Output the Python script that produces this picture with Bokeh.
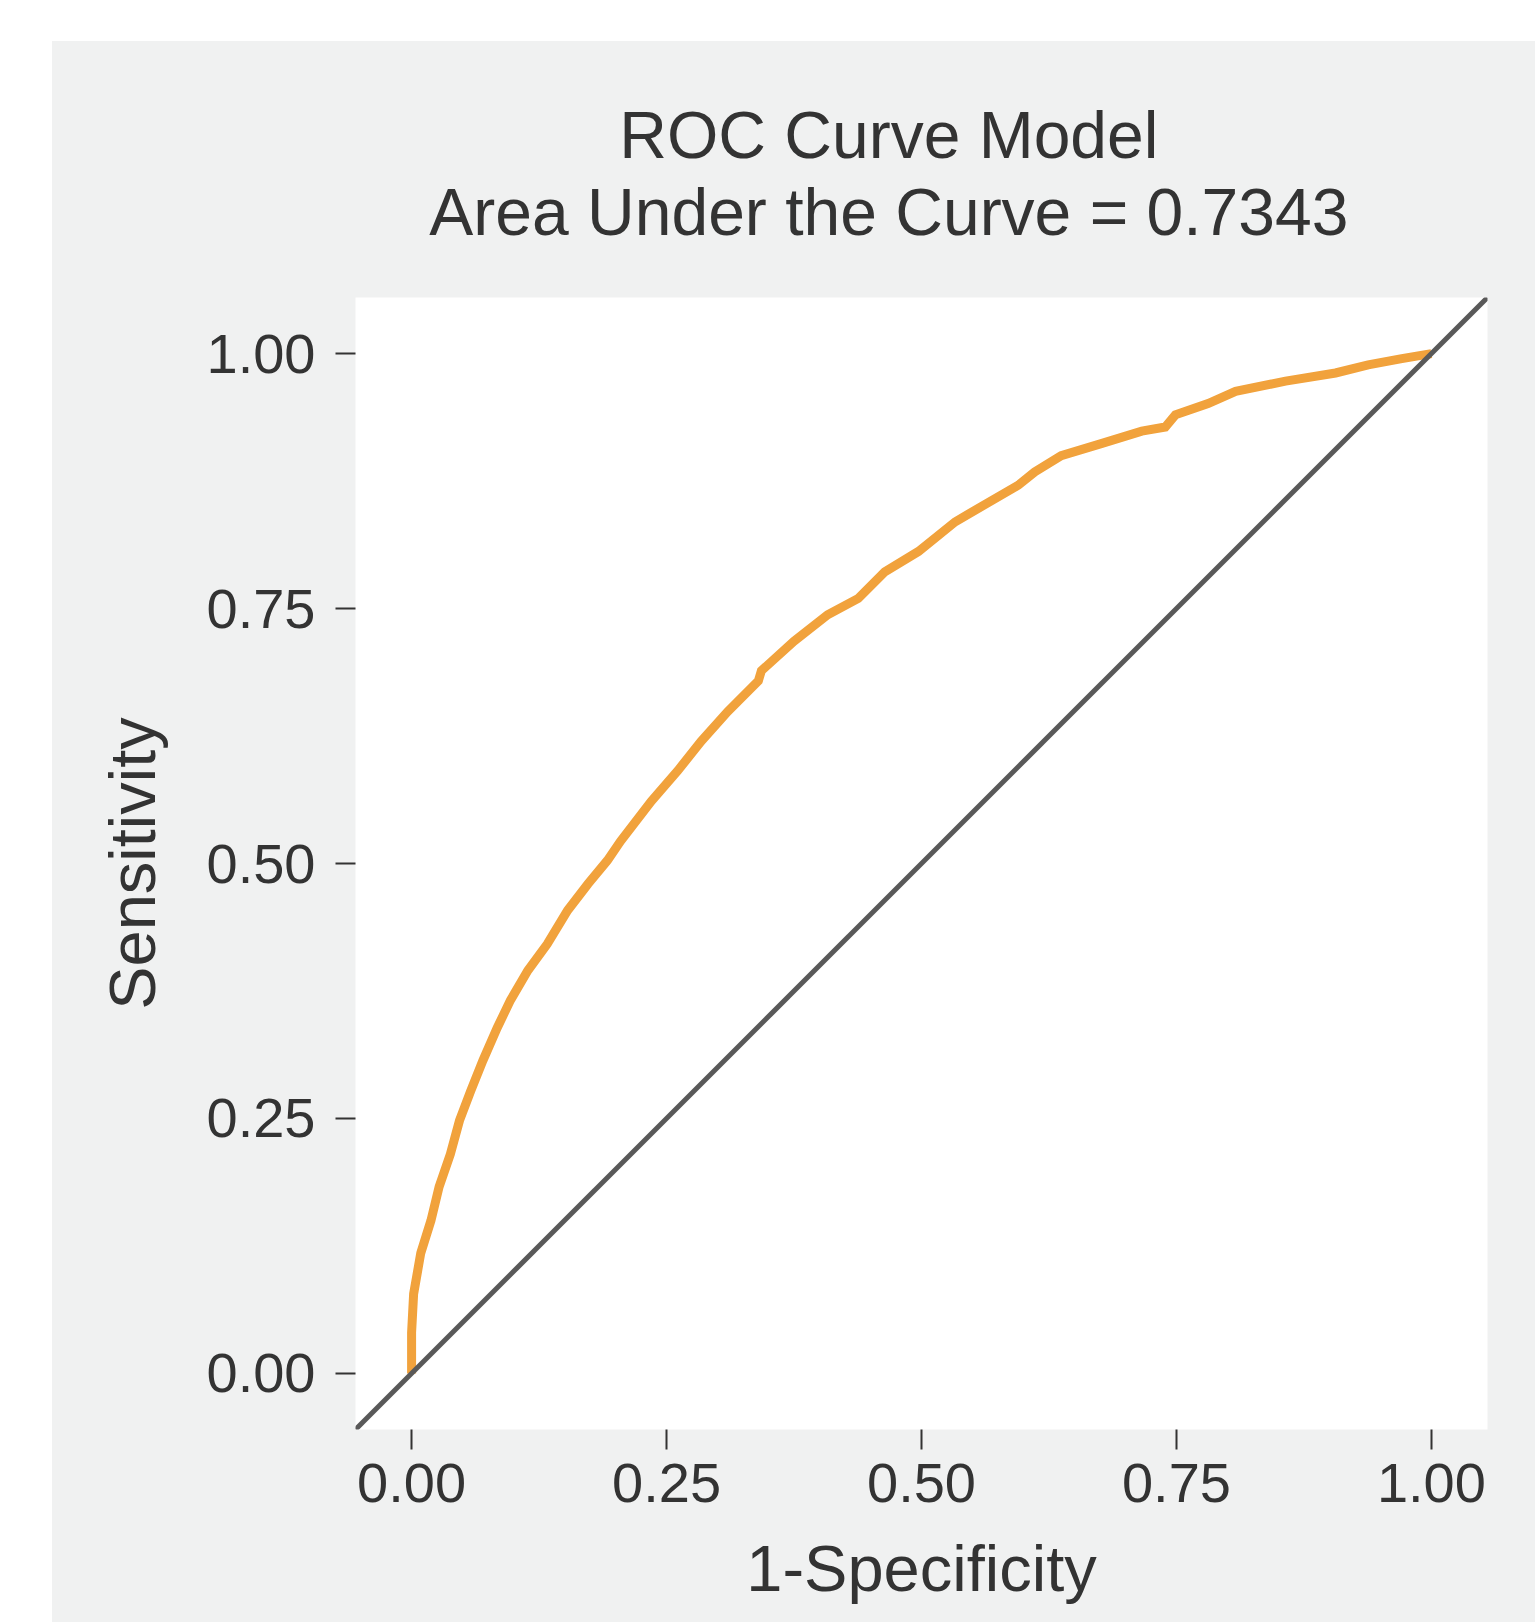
from bokeh.plotting import figure
from bokeh.models import Label, Slope, Range1d, FixedTicker, Spacer
from bokeh.layouts import row, column
from bokeh.embed import file_html
from bokeh.resources import INLINE

# ROC curve points
fpr = [0, 0, 0.002, 0.009, 0.019, 0.027, 0.038, 0.047, 0.058, 0.070, 0.084, 0.097,
       0.114, 0.133, 0.153, 0.173, 0.192, 0.205, 0.235, 0.261, 0.284, 0.310, 0.340,
       0.343, 0.375, 0.408, 0.438, 0.464, 0.497, 0.533, 0.562, 0.595, 0.611, 0.637,
       0.677, 0.716, 0.739, 0.749, 0.781, 0.808, 0.857, 0.906, 0.938, 0.971, 1.0]
tpr = [0, 0.040, 0.078, 0.118, 0.150, 0.183, 0.215, 0.248, 0.277, 0.307, 0.339, 0.366,
       0.395, 0.421, 0.454, 0.480, 0.503, 0.522, 0.561, 0.591, 0.620, 0.649, 0.679,
       0.689, 0.718, 0.744, 0.760, 0.786, 0.806, 0.835, 0.852, 0.871, 0.884, 0.900,
       0.912, 0.924, 0.928, 0.940, 0.951, 0.963, 0.973, 0.981, 0.989, 0.995, 1.0]
ticks = [0.0, 0.25, 0.5, 0.75, 1.0]
tick_labels = {0.0: "0.00", 0.25: "0.25", 0.5: "0.50", 0.75: "0.75", 1.0: "1.00"}
title_line1 = "ROC Curve Model"
title_line2 = "Area Under the Curve = 0.7343"
x_title = "1-Specificity"
y_title = "Sensitivity"

BG = "#F0F1F1"
TXT = "#333333"
FONT = "Liberation Sans"

x_range = Range1d(-0.055, 1.055)

# header strip holding the two-line title
head = figure(frame_width=1132, frame_height=256,
              min_border_left=303, min_border_right=48, min_border_top=0, min_border_bottom=0,
              x_range=x_range, y_range=Range1d(0, 256),
              x_axis_type=None, y_axis_type=None,
              output_backend="svg", toolbar_location=None,
              background_fill_color=None, border_fill_color=BG)
head.outline_line_color = None
head.grid.visible = False
for txt, yy in ((title_line1, 163), (title_line2, 85.5)):
    head.add_layout(Label(x=0.468, y=yy, text=txt, text_align="center", text_baseline="middle",
                          text_font=FONT, text_font_size="66px", text_color=TXT))

p = figure(frame_width=1132, frame_height=1132,
           min_border_left=303, min_border_right=48, min_border_top=0, min_border_bottom=193,
           x_range=x_range, y_range=Range1d(-0.055, 1.055),
           output_backend="svg", toolbar_location=None,
           background_fill_color="white", border_fill_color=BG)
p.outline_line_color = None
p.grid.visible = False

for ax in (p.xaxis[0], p.yaxis[0]):
    ax.ticker = FixedTicker(ticks=ticks)
    ax.major_label_overrides = tick_labels
    ax.axis_line_color = None
    ax.major_tick_line_color = TXT
    ax.major_tick_line_width = 2
    ax.major_tick_out = 20
    ax.major_tick_in = 0
    ax.minor_tick_line_color = None
    ax.major_label_text_font = FONT
    ax.major_label_text_font_size = "56px"
    ax.major_label_text_color = TXT
    ax.axis_label_text_font = FONT
    ax.axis_label_text_font_size = "65px"
    ax.axis_label_text_font_style = "normal"
    ax.axis_label_text_color = TXT

p.xaxis[0].axis_label = x_title
p.yaxis[0].axis_label = y_title
p.xaxis[0].major_label_standoff = 14
p.yaxis[0].major_label_standoff = 20
p.xaxis[0].axis_label_standoff = 27
p.yaxis[0].axis_label_standoff = 35

p.add_layout(Slope(gradient=1, y_intercept=0, line_color="#595959", line_width=5))
p.line(fpr, tpr, line_color="#F1A23C", line_width=9, line_join="miter")

inner = column(head, p, spacing=0, styles={"background-color": BG})
layout = column(Spacer(height=41), row(Spacer(width=52), inner))
open("out.html", "w").write(file_html(layout, INLINE))
